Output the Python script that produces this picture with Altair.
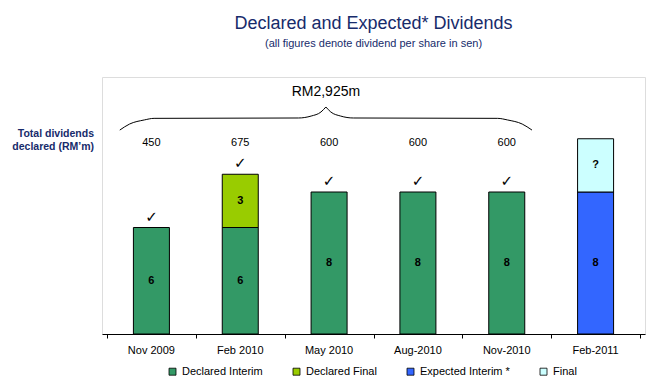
import altair as alt
import pandas as pd

# ---- data ----
months = ["Nov 2009", "Feb 2010", "May 2010", "Aug-2010", "Nov-2010", "Feb-2011"]
series = ["Declared Interim", "Declared Final", "Expected Interim *", "Final"]
colors = ["#339966", "#99CC00", "#3366FF", "#CCFFFF"]
declared_interim = [6, 6, 8, 8, 8, 0]
declared_final = [0, 3, 0, 0, 0, 0]
expected_interim = [0, 0, 0, 0, 0, 8]
final_div = [0, 0, 0, 0, 0, 3]
totals_rm = ["450", "675", "600", "600", "600", ""]
declared_flag = [True, True, True, True, True, False]
grand_total = "RM2,925m"
left_label = ["Total dividends", "declared (RM\u2019m)"]

# brace shape (category-index units, value units)
brace_left_x = [0.144, 0.254, 0.420, 0.530, 2.155, 2.298, 2.409, 2.464]
brace_left_y = [11.49, 11.83, 12.06, 12.15, 12.17, 12.28, 12.51, 12.79]

NAVY = "#172B6B"
FONT = "Liberation Sans"

# ---- tables ----
pos_of = {m: i + 0.5 for i, m in enumerate(months)}
rows = []
all_vals = [declared_interim, declared_final, expected_interim, final_div]
for i, m in enumerate(months):
    for k, (s, vals) in enumerate(zip(series, all_vals)):
        v = vals[i]
        if v > 0:
            rows.append(dict(month=m, pos=pos_of[m], series=s, order=k, value=v,
                             label="?" if s == "Final" else str(v)))
bars_df = pd.DataFrame(rows)

check_df = pd.DataFrame([
    dict(month=m, pos=pos_of[m], top=declared_interim[i] + declared_final[i])
    for i, m in enumerate(months) if declared_flag[i]
])
totals_df = pd.DataFrame(dict(month=months, pos=[pos_of[m] for m in months],
                              total=totals_rm))

brace_rows = []
for x, y in zip(brace_left_x, brace_left_y):
    brace_rows.append(dict(side="L", pos=x, by=y))
mid = brace_left_x[-1]
for x, y in zip(brace_left_x, brace_left_y):
    brace_rows.append(dict(side="R", pos=2 * mid - x, by=y))
brace_df = pd.DataFrame(brace_rows)
tip_df = pd.DataFrame(dict(pos=[mid], txt=[grand_total]))

ymax = 14.48
yscale = alt.Scale(domain=[0, ymax], nice=False, zero=True)
xq = alt.X("pos:Q", title=None,
           scale=alt.Scale(domain=[0, len(months)], nice=False, zero=False),
           axis=alt.Axis(values=list(range(len(months) + 1)), labels=False,
                         tickSize=4, domainColor="black", tickColor="black",
                         grid=False, title=None))

bars = alt.Chart(bars_df).mark_bar(size=36, stroke="black", strokeWidth=1).encode(
    x=xq,
    y=alt.Y("value:Q", stack="zero", scale=yscale, axis=None),
    color=alt.Color("series:N", scale=alt.Scale(domain=series, range=colors),
                    legend=alt.Legend(orient="none", legendX=65, legendY=289,
                                      direction="horizontal", title=None,
                                      symbolType="square", symbolSize=49,
                                      symbolStrokeColor="black", symbolStrokeWidth=0.8,
                                      labelFontSize=11, labelOffset=4,
                                      columnPadding=28, labelColor="black",
                                      labelFont=FONT)),
    order=alt.Order("order:Q", sort="ascending"),
)

seg_labels = alt.Chart(bars_df).transform_stack(
    stack="value", groupby=["month"], as_=["y0", "y1"],
    sort=[alt.SortField("order", "ascending")]
).transform_calculate(mid="(datum.y0 + datum.y1) / 2").mark_text(
    fontWeight="bold", fontSize=11, color="black", font=FONT
).encode(x=xq, y=alt.Y("mid:Q", scale=yscale, axis=None), text="label:N")

checks = alt.Chart(check_df).mark_text(
    text="\u2713", fontSize=15, font="DejaVu Sans", color="black", dy=-11
).encode(x=xq, y=alt.Y("top:Q", scale=yscale, axis=None))

totals = alt.Chart(totals_df).mark_text(fontSize=11, color="black", font=FONT).encode(
    x=xq, y=alt.value(66), text="total:N")

month_labels = alt.Chart(totals_df).mark_text(
    fontSize=11, color="black", font=FONT, baseline="middle"
).encode(x=xq, y=alt.value(274), text="month:N")

left_text = alt.Chart(pd.DataFrame({"a": [0]})).mark_text(
    text=left_label, align="right", fontWeight="bold", fontSize=10.5,
    color=NAVY, lineHeight=13, font=FONT, baseline="middle"
).encode(x=alt.value(-8), y=alt.value(57))

brace = alt.Chart(brace_df).mark_line(
    color="black", strokeWidth=1, interpolate="monotone"
).encode(
    x=xq,
    y=alt.Y("by:Q", scale=yscale, axis=None),
    detail="side:N",
    order="pos:Q",
)
tip_text = alt.Chart(tip_df).mark_text(fontSize=14, color="black", font=FONT).encode(
    x=xq, y=alt.value(15), text="txt:N")

chart = alt.layer(bars, seg_labels, checks, totals, month_labels, left_text,
                  brace, tip_text).properties(
    width=543, height=257,
    title=alt.TitleParams(
        "Declared and Expected* Dividends",
        subtitle="(all figures denote dividend per share in sen)",
        fontSize=18, subtitleFontSize=11, color=NAVY, subtitleColor=NAVY,
        fontWeight="normal", anchor="middle", offset=28, subtitlePadding=5,
        font=FONT, subtitleFont=FONT),
    autosize=alt.AutoSizeParams(type="none"),
    padding={"left": 94, "top": 69, "right": 14, "bottom": 50},
).configure_view(stroke="transparent", strokeWidth=0).configure(font=FONT).configure_axisY(
    disable=True
).configure_axis(grid=False, gridColor="transparent")

chart.save("out.html", embed_options={"renderer": "svg", "actions": False})
